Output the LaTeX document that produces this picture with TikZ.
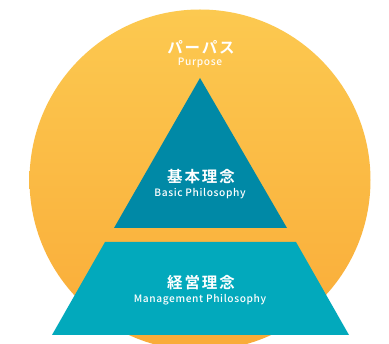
\documentclass[tikz,border=0pt]{standalone}
\usepackage{fontspec}
\newfontfamily\jpfont[LetterSpace=12]{Noto Sans CJK JP Bold}
\newfontfamily\enfont[LetterSpace=6]{Noto Sans CJK JP Medium}
\definecolor{circtop}{RGB}{252,201,80}
\definecolor{circbot}{RGB}{249,171,56}
\definecolor{tri}{RGB}{0,137,166}
\definecolor{trap}{RGB}{2,169,188}
\tikzset{
  jp/.style={text=white,font=\jpfont\fontsize{15.5}{15.5}\selectfont,inner sep=0pt},
  en/.style={text=white,font=\enfont\fontsize{10.2}{10.5}\selectfont,inner sep=0pt},
}
\begin{document}
\begin{tikzpicture}[x=1pt,y=-1pt]
\useasboundingbox (0,0) rectangle (389,344);
\clip (0,0) rectangle (389,344);
\fill[white] (0,0) rectangle (389,344);
\shade[top color=circtop,bottom color=circbot] (200,180) circle (170.5);
\fill[tri] (200,78) -- (287,228) -- (114,228) -- cycle;
\fill[trap] (105,242) -- (296,242) -- (349,335) -- (52,335) -- cycle;
\node[jp] (p) at (201,47) {パーパス};
\node[en,text=white!95!circtop] (pe) at (200,63) {Purpose};
\node[jp] (b) at (201,177) {基本理念};
\node[en] (be) at (200,194) {Basic Philosophy};
\node[jp] (m) at (201,283) {経営理念};
\node[en] (me) at (200,300) {Management Philosophy};
\end{tikzpicture}
\end{document}
